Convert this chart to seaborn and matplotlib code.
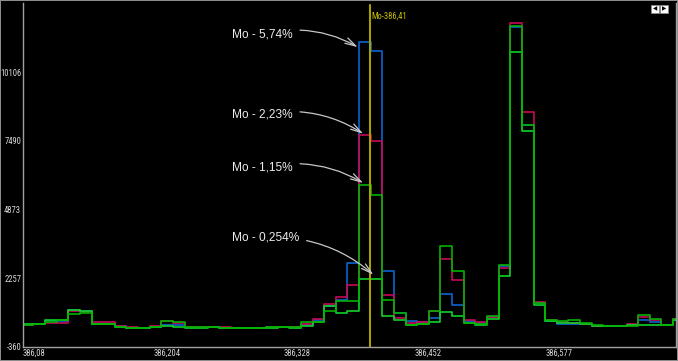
import numpy as np
import pandas as pd
import seaborn as sns
import matplotlib.pyplot as plt
from matplotlib import font_manager

# spectrometer pixels: first pixel start and pixel width (nm)
x_start = 386.0793
bin_w = 0.01107
mo_line = 386.411

# intensities per pixel, one list per sample
blue = [489, 527, 641, 641, 1060, 1022, 527, 527, 430, 382, 370, 400, 489, 489, 400,
        410, 410, 380, 370, 352, 352, 390, 400, 390, 466, 668, 1210, 1440, 2837, 11260,
        10894, 2521, 934, 618, 580, 744, 1657, 1250, 618, 553, 782, 2711, 11808, 8080, 1330,
        618, 527, 527, 515, 451, 428, 428, 489, 656, 592, 496, 680]
magenta = [480, 515, 553, 553, 999, 961, 580, 580, 439, 390, 382, 451, 618, 553, 420,
           420, 420, 390, 380, 360, 365, 400, 410, 400, 527, 706, 1277, 1532, 2011, 7720,
           7492, 1608, 744, 553, 580, 999, 3001, 2201, 679, 580, 782, 2647, 11960, 8573, 1353,
           650, 580, 553, 515, 451, 440, 440, 515, 770, 656, 466, 706]
green = [470, 530, 592, 656, 896, 923, 527, 515, 413, 363, 363, 400, 618, 592, 390,
         400, 400, 380, 370, 352, 360, 390, 400, 410, 580, 600, 999, 1402, 1402, 5794,
         5437, 1440, 934, 489, 515, 1022, 3473, 2521, 553, 515, 808, 2772, 11846, 8101, 1315,
         679, 618, 656, 542, 460, 428, 428, 451, 847, 706, 480, 700]
lime = [500, 527, 656, 668, 1037, 1010, 527, 500, 420, 370, 363, 390, 428, 400, 363,
        380, 390, 370, 365, 352, 352, 380, 395, 380, 428, 592, 1189, 934, 999, 2240,
        2240, 808, 679, 489, 515, 592, 972, 831, 553, 489, 717, 2331, 10868, 7873, 1250,
        640, 560, 540, 530, 451, 428, 428, 470, 489, 489, 470, 680]

samples = ["Mo - 5,74%", "Mo - 2,23%", "Mo - 0,254%", "Mo - 1,15%"]
colors = ["#0a64d2", "#c8085a", "#10d22a", "#00b400"]

y_ticks = [-360, 2257, 4873, 7490, 10106]
x_ticks = [386.08, 386.2044, 386.3288, 386.4532, 386.5776]
x_labels = ["386,08", "386,204", "386,328", "386,452", "386,577"]

# build long table, last value repeated so the last step is closed
edges = x_start + bin_w * np.arange(len(blue) + 1)
parts = []
for name, vals in zip(samples, [blue, magenta, lime, green]):
    parts.append(pd.DataFrame({"wl": edges, "I": list(vals) + [vals[-1]], "sample": name}))
df = pd.concat(parts)

sns.set_style("dark", {"axes.facecolor": "black", "figure.facecolor": "black"})
plt.rcParams["font.family"] = ["Liberation Sans", "DejaVu Sans"]

# narrow font for the small axis texts, if one is there
installed = {f.name for f in font_manager.fontManager.ttflist}
small_font = "Liberation Sans"
small_size = 5.3
for cand in ["Liberation Sans Narrow", "DejaVu Sans Condensed", "Roboto Condensed"]:
    if cand in installed:
        small_font = cand
        small_size = 6.2
        break

fig = plt.figure(figsize=(6.78, 3.61), dpi=100, facecolor="black",
                 edgecolor="#8c8c8c", linewidth=1.2)
ax = fig.add_axes([22.5 / 678, 14 / 361, 653.5 / 678, 344 / 361])

sns.lineplot(data=df, x="wl", y="I", hue="sample", hue_order=samples,
             palette=colors, drawstyle="steps-post", linewidth=1.2,
             legend=False, ax=ax, sort=True, estimator=None)

ax.axvline(mo_line, color="#a8a000", lw=1.5, ymax=0.993)
ax.text(mo_line + 0.0012, 12250, "Mo-386,41", color="#c8c000", fontsize=small_size,
        family=small_font, va="center", ha="left")

ax.set_xlim(386.08, 386.702)
ax.set_ylim(-300, 12740)
ax.set_xticks(x_ticks)
ax.set_xticklabels(x_labels, ha="left")
ax.set_yticks(y_ticks)
ax.set_yticklabels([str(v) for v in y_ticks])
ax.tick_params(length=0, colors="#d8d8d8", labelsize=small_size, pad=1)
for lab in ax.get_xticklabels() + ax.get_yticklabels():
    lab.set_family(small_font)
ax.set_xlabel("")
ax.set_ylabel("")
ax.grid(False)
for side in ["left", "bottom", "right"]:
    ax.spines[side].set_visible(True)
    ax.spines[side].set_color("#a0a0a0")
    ax.spines[side].set_linewidth(1)
ax.spines["top"].set_visible(False)

# annotations pointing at the Mo pixel
text_x = 386.2794
text_y = [11553, 8508, 6479, 3815]
tips = [(edges[29] - 0.0012, blue[29] - 200), (edges[29] + 0.004, magenta[29] + 40),
        (edges[29] + 0.004, green[29] + 90), (mo_line + 0.003, lime[29] + 150)]
labels = ["Mo - 5,74%", "Mo - 2,23%", "Mo - 1,15%", "Mo - 0,254%"]
for lab, ty, tip in zip(labels, text_y, tips):
    ax.annotate(lab, xy=tip, xytext=(text_x, ty), color="#ececec", fontsize=8.6,
                ha="left", va="center",
                arrowprops=dict(arrowstyle="->,head_length=0.9,head_width=0.25",
                                color="#c8c8c8", lw=0.9, shrinkA=3, shrinkB=0,
                                connectionstyle="arc3,rad=-0.2"))

# small scroll buttons in the corner
fig.text(655 / 678, 1 - 9 / 361, "◀", fontsize=4, color="black", ha="center", va="center",
         family="DejaVu Sans", bbox=dict(boxstyle="square,pad=0.25", fc="white", ec="#909090", lw=0.5))
fig.text(664 / 678, 1 - 9 / 361, "▶", fontsize=4, color="black", ha="center", va="center",
         family="DejaVu Sans", bbox=dict(boxstyle="square,pad=0.25", fc="white", ec="#909090", lw=0.5))

fig.savefig("out.png", dpi=100, facecolor="black", edgecolor=fig.get_edgecolor())
